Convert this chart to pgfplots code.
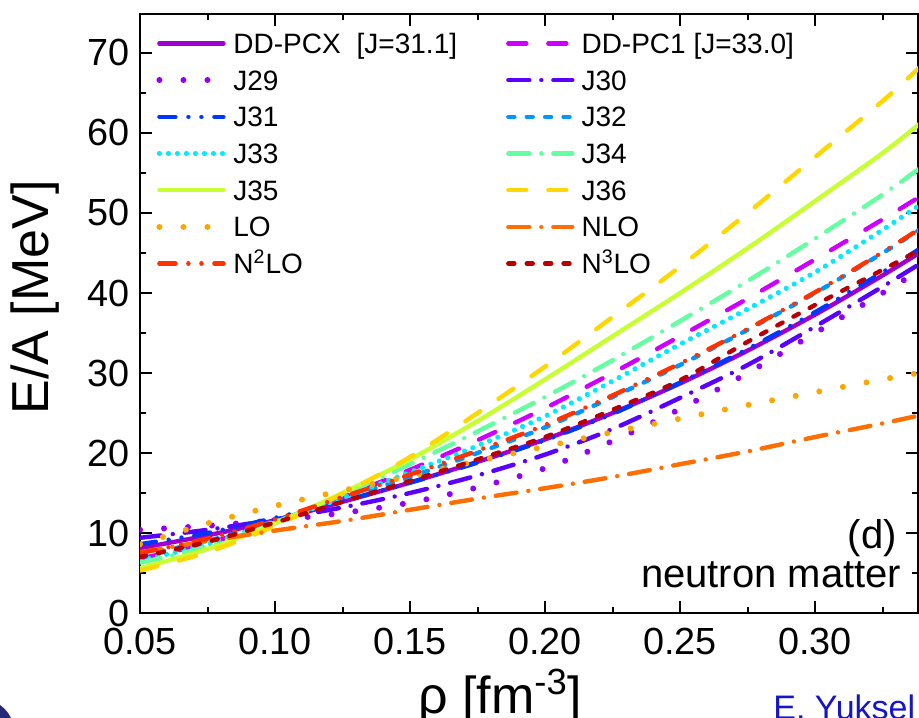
\documentclass[border=0pt]{standalone}
\usepackage{fontspec}
\setmainfont{Liberation Sans}
\usepackage{pgfplots}
\usepackage{pgfplotstable}
\pgfplotsset{compat=1.18}

\definecolor{cPCX}{RGB}{160,0,205}
\definecolor{cPC1}{RGB}{205,0,255}
\definecolor{cJ29}{RGB}{145,0,255}
\definecolor{cJ30}{RGB}{90,0,255}
\definecolor{cJ31}{RGB}{0,55,255}
\definecolor{cJ32}{RGB}{0,150,255}
\definecolor{cJ33}{RGB}{0,235,255}
\definecolor{cJ34}{RGB}{100,255,160}
\definecolor{cJ35}{RGB}{200,255,50}
\definecolor{cJ36}{RGB}{255,215,0}
\definecolor{cLO}{RGB}{255,165,0}
\definecolor{cNLO}{RGB}{255,110,0}
\definecolor{cNtwo}{RGB}{255,50,0}
\definecolor{cNthree}{RGB}{185,0,0}
\definecolor{navyc}{RGB}{40,40,120}
\definecolor{authblue}{RGB}{20,20,200}

% E/A [MeV] of neutron matter vs density
\pgfplotstableread{
rho   PCX  PC1  J29  J30  J31  J32  J33  J34  J35  J36  LO   NLO  Ntwo Nthree
0.050 8.1  6.8  10.4 9.4  8.6  7.2  6.6  6.3  5.6  5.3  8.6  7.6  7.5  7.0
0.075 9.7  8.7  10.9 10.4 10.0 9.0  8.6  8.3  8.0  7.6  11.2 9.0  9.3  8.9
0.100 11.6 11.4 11.6 11.7 11.9 11.5 11.4 11.3 11.2 10.9 13.4 10.3 11.7 11.3
0.125 13.9 14.5 12.5 13.2 14.0 14.3 14.4 14.8 15.0 14.9 15.3 11.5 14.5 13.9
0.150 16.3 17.9 13.8 15.0 16.3 17.0 17.6 18.6 19.2 19.5 17.1 12.9 17.3 16.5
0.175 18.9 21.6 15.7 17.2 18.8 20.0 20.9 22.7 24.0 25.0 19.0 14.3 20.3 19.2
0.200 21.7 25.6 18.1 19.8 21.6 23.2 24.6 27.0 29.2 30.8 20.8 15.6 23.5 22.0
0.225 25.0 30.0 21.5 23.0 24.9 27.0 29.0 31.6 34.6 37.0 22.6 17.0 27.2 25.4
0.250 28.7 34.6 25.5 26.9 28.8 31.0 33.6 36.5 40.0 43.3 24.3 18.6 31.2 29.1
0.275 32.8 39.3 30.0 31.0 33.0 35.4 38.0 41.5 45.6 50.0 26.0 20.2 35.5 33.9
0.300 37.3 44.2 35.0 35.8 37.6 40.0 42.6 46.8 51.5 57.0 27.6 22.0 40.1 38.5
0.325 42.2 49.2 40.0 40.8 42.6 45.0 47.9 52.3 57.5 64.0 29.2 23.7 45.1 42.9
0.340 45.3 52.3 43.1 43.9 45.8 48.2 51.3 55.9 61.5 68.6 30.1 24.8 48.3 45.6
}\eos

\tikzset{
  ldash/.style={dash pattern=on 9pt off 11pt},
  sdash/.style={dash pattern=on 3pt off 6.2pt},
  sdot/.style={line width=3pt, dash pattern=on 0.01pt off 12pt},
  ddot/.style={line width=2.6pt, dash pattern=on 0.01pt off 4.5pt},
  dashdot/.style={dash pattern=on 10.5pt off 6pt on 0.01pt off 6pt},
  dashdotdot/.style={dash pattern=on 8pt off 6.5pt on 0.01pt off 6.5pt on 0.01pt off 6.5pt},
}

\begin{document}
\begin{tikzpicture}
\begin{axis}[
  at={(0,0)}, anchor=south west,
  scale only axis, width=389pt, height=299.5pt,
  xmin=0.05, xmax=0.3381, ymin=0, ymax=74.875,
  xtick={0.05,0.10,0.15,0.20,0.25,0.30},
  minor xtick={0.075,0.125,0.175,0.225,0.275,0.325},
  ytick={0,10,20,30,40,50,60,70},
  minor ytick={5,15,25,35,45,55,65},
  xticklabel style={/pgf/number format/fixed, /pgf/number format/fixed zerofill,
    /pgf/number format/precision=2, inner sep=0pt, anchor=north, yshift=-7.5pt},
  yticklabel style={inner sep=0pt, anchor=east, xshift=-5pt},
  /pgf/number format/assume math mode=true,
  tick label style={font=\fontsize{18.9}{20}\selectfont},
  tick align=inside, xtick pos=both, ytick pos=both,
  major tick length=6pt, minor tick length=3pt,
  every tick/.style={black, line width=1pt},
  axis line style={line width=1.2pt},
  xlabel={ρ [fm\textsuperscript{-3}]},
  ylabel={E/A [MeV]},
  label style={font=\fontsize{26}{28}\selectfont},
  xlabel style={at={(axis description cs:0.463,-0.167)}, anchor=base},
  ylabel style={at={(axis description cs:-0.135,0.527)}, anchor=center},
  legend columns=2, legend cell align=left,
  legend image code/.code={\draw[#1] (1pt,0pt) -- (33pt,0pt);},
  legend style={draw=none, fill=none, at={(axis description cs:0,1)},
    anchor=north west, xshift=8pt, yshift=-7.5pt, inner sep=0pt,
    row sep=4.35pt, column sep=3.5pt,
    font=\fontsize{14}{16}\selectfont,
    nodes={inner sep=0pt, text height=12pt, text depth=2pt},
    /tikz/every even column/.append style={column sep=24.5pt}},
  every axis plot/.append style={line width=2.2pt, line cap=round, smooth},
]
\addplot[cPCX] table[x=rho, y=PCX] {\eos};
\addlegendentry{DD-PCX\hspace{8pt}[J=31.1]}
\addplot[cPC1, ldash] table[x=rho, y=PC1] {\eos};
\addlegendentry{DD-PC1 [J=33.0]}
\addplot[cJ29, sdot] table[x=rho, y=J29] {\eos};
\addlegendentry{J29}
\addplot[cJ30, dashdot] table[x=rho, y=J30] {\eos};
\addlegendentry{J30}
\addplot[cJ31, dashdotdot] table[x=rho, y=J31] {\eos};
\addlegendentry{J31}
\addplot[cJ32, sdash] table[x=rho, y=J32] {\eos};
\addlegendentry{J32}
\addplot[cJ33, ddot] table[x=rho, y=J33] {\eos};
\addlegendentry{J33}
\addplot[cJ34, dashdot] table[x=rho, y=J34] {\eos};
\addlegendentry{J34}
\addplot[cJ35] table[x=rho, y=J35] {\eos};
\addlegendentry{J35}
\addplot[cJ36, ldash] table[x=rho, y=J36] {\eos};
\addlegendentry{J36}
\addplot[cLO, sdot] table[x=rho, y=LO] {\eos};
\addlegendentry{LO}
\addplot[cNLO, dashdot] table[x=rho, y=NLO] {\eos};
\addlegendentry{NLO}
\addplot[cNtwo, dashdotdot] table[x=rho, y=Ntwo] {\eos};
\addlegendentry{N\textsuperscript{2}LO}
\addplot[cNthree, sdash] table[x=rho, y=Nthree] {\eos};
\addlegendentry{N\textsuperscript{3}LO}

\node[anchor=base east, inner sep=0pt, font=\fontsize{20}{22}\selectfont]
  at (axis description cs:0.973,0.1085) {(d)};
\node[anchor=base east, inner sep=0pt, font=\fontsize{20}{22}\selectfont]
  at (axis description cs:0.979,0.0434) {neutron matter};
\end{axis}
\node[anchor=north west, inner sep=0pt, text=authblue, font=\fontsize{17}{19}\selectfont]
  at (316.5pt,-40.5pt) {E. Yuksel};
\fill[navyc] (-80pt,-60pt) circle (17.2pt);
\pgfresetboundingbox
\useasboundingbox (-70pt,-52pt) rectangle (389.5pt,306.5pt);
\end{tikzpicture}
\end{document}
